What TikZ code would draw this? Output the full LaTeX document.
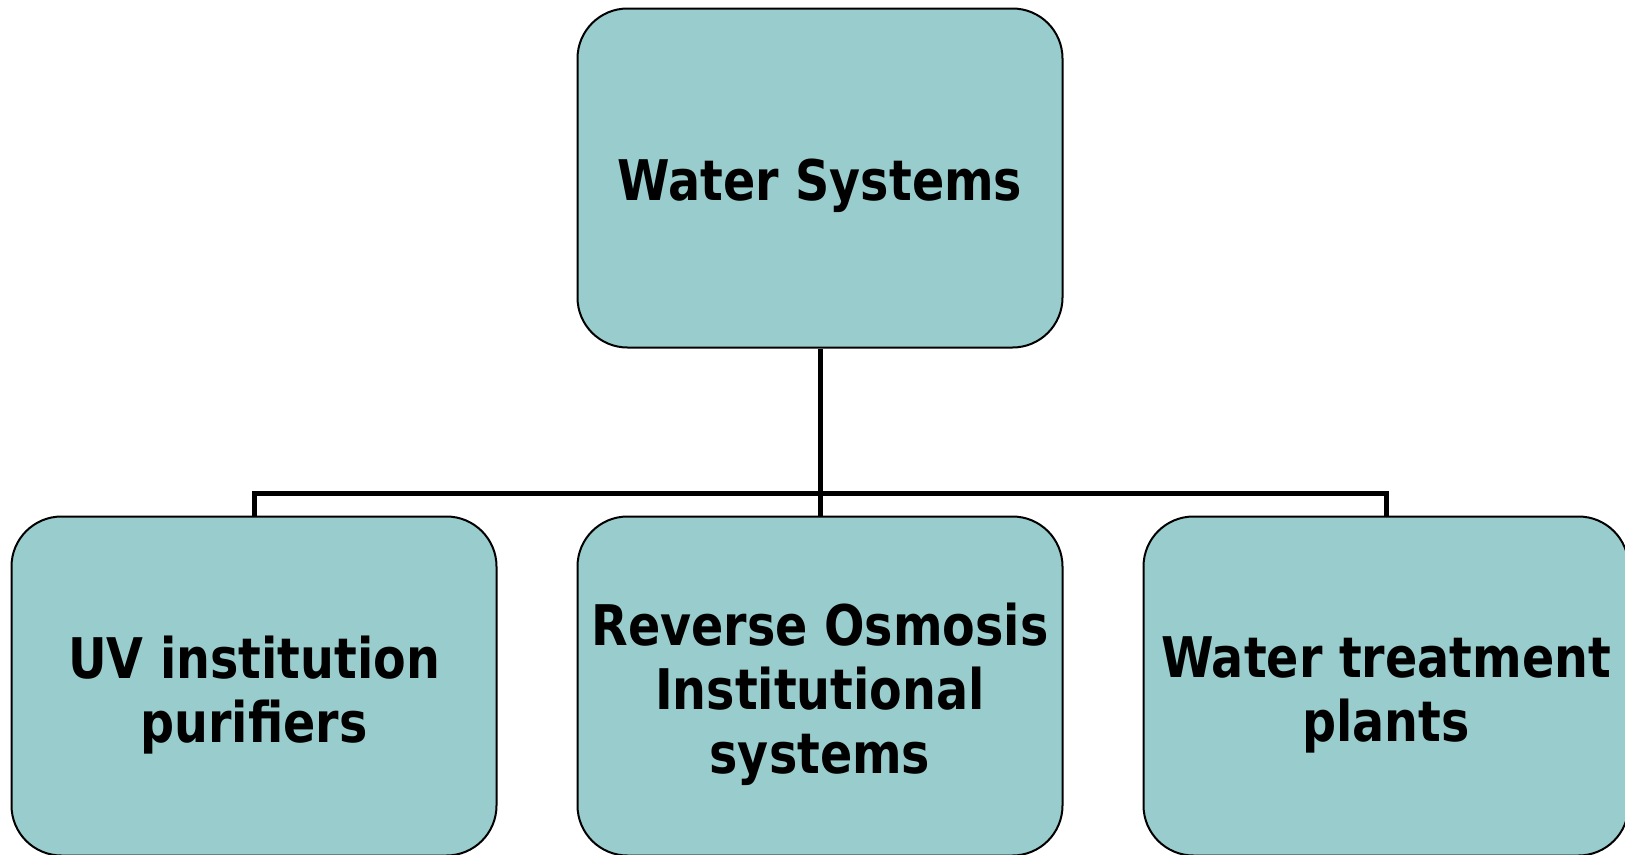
\documentclass[tikz,border=0pt]{standalone}
\usepackage{fontspec}
\setmainfont{DejaVu Sans}[FakeStretch=0.85]
\usepackage{xcolor}
\definecolor{boxteal}{RGB}{153,204,204}
\tikzset{
  orgbox/.style={draw=black,line width=2pt,fill=boxteal,rounded corners=50pt,
    minimum width=485pt,minimum height=339pt,inner sep=0pt},
  orgtext/.style={align=center,inner sep=0pt,
    font=\fontsize{56pt}{64pt}\selectfont\bfseries},
  link/.style={line width=5pt}
}

\begin{document}
\begin{tikzpicture}[x=1pt,y=-1pt]
            \useasboundingbox (0,0) rectangle (1625,854);
            \node[orgbox] (ws) at (820,178) {};
            \node[orgbox] (uv) at (254,686) {};
            \node[orgbox] (ro) at (820,686) {};
            \node[orgbox] (wtp) at (1386,686) {};
            \node[orgtext] (wstext) at ([yshift=-8pt]ws.center) {Water Systems};
            \node[orgtext] (uvtext) at ([yshift=-9pt]uv.center) {UV institution\\purifiers};
            \node[orgtext] (rotext) at ([yshift=-8pt]ro.center) {Reverse Osmosis\\Institutional\\systems};
            \node[orgtext] (wtptext) at ([yshift=-9pt]wtp.center) {Water treatment\\plants};
            \coordinate (bus) at (820,493);
            \draw[link] (ws.south) -- (bus);
            \draw[link] (bus) -| (uv.north);
            \draw[link] (bus) -- (ro.north);
            \draw[link] (bus) -| (wtp.north);
        \end{tikzpicture}
\end{document}
